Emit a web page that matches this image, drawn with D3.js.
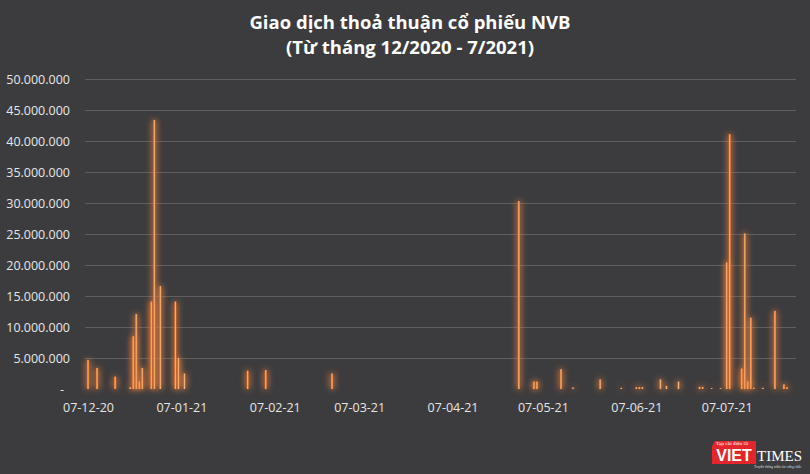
<!DOCTYPE html>
<html>
<head>
<meta charset="utf-8">
<script src="https://cdn.jsdelivr.net/npm/d3@7/dist/d3.min.js"></script>
<style>
  html, body { margin: 0; padding: 0; background: #3c3c3e; }
  svg { display: block; }
  .tick text { fill: #e6e6e6; font-family: "Open Sans", sans-serif; font-size: 12.5px; }
</style>
</head>
<body>
<svg id="chart" width="810" height="474"></svg>
<script>
'use strict';

// trade dates and matched volume
const tradeDates = [
   "2020-12-07", "2020-12-10", "2020-12-16", "2020-12-21", "2020-12-22", "2020-12-23",
   "2020-12-24", "2020-12-25", "2020-12-28", "2020-12-29", "2020-12-31", "2021-01-05",
   "2021-01-06", "2021-01-08", "2021-01-29", "2021-02-04", "2021-02-26", "2021-04-29",
   "2021-05-04", "2021-05-05", "2021-05-13", "2021-05-17", "2021-05-26", "2021-06-02",
   "2021-06-07", "2021-06-08", "2021-06-09", "2021-06-15", "2021-06-17", "2021-06-21",
   "2021-06-28", "2021-06-29", "2021-07-02", "2021-07-05", "2021-07-07", "2021-07-08",
   "2021-07-12", "2021-07-13", "2021-07-14", "2021-07-15", "2021-07-16", "2021-07-19",
   "2021-07-23", "2021-07-26", "2021-07-27"
];
const volumes = [
   4700000, 3400000, 2000000, 300000, 8500000, 12100000,
   1200000, 3400000, 14100000, 43400000, 16600000, 14100000,
   5000000, 2500000, 2950000, 3050000, 2500000, 30300000,
   1200000, 1200000, 3200000, 250000, 1550000, 200000,
   300000, 300000, 300000, 1550000, 500000, 1200000,
   350000, 350000, 150000, 150000, 20400000, 41100000,
   3300000, 25100000, 1200000, 11500000, 200000, 200000,
   12600000, 750000, 300000
];
const monthTicks = [
   "2020-12-07", "2021-01-07", "2021-02-07", "2021-03-07",
   "2021-04-07", "2021-05-07", "2021-06-07", "2021-07-07"
];
const yTicks = [0, 5000000, 10000000, 15000000, 20000000, 25000000,
   30000000, 35000000, 40000000, 45000000, 50000000];
const axisStart = "2020-12-06";
const axisEnd = "2021-07-30";
const titleLines = ["Giao dịch thoả thuận cổ phiếu NVB", "(Từ tháng 12/2020 - 7/2021)"];

const svg = d3.select("#chart"),
   width = +svg.attr("width"),
   height = +svg.attr("height");

const parse = d3.utcParse("%Y-%m-%d");
const plot = { left: 85, right: 796, top: 79, bottom: 389 };

const x = d3.scaleUtc()
   .domain([parse(axisStart), parse(axisEnd)])
   .range([plot.left, plot.right]);

const y = d3.scaleLinear()
   .domain([0, 50000000])
   .range([plot.bottom, plot.top]);

const vn = d3.formatLocale({ decimal: ",", thousands: ".", grouping: [3], currency: ["", ""] });
const fmt = vn.format(",");

svg.append("rect").attr("width", width).attr("height", height).attr("fill", "#3c3c3e");

// glow + gradient for the bars
const defs = svg.append("defs");
const grad = defs.append("linearGradient").attr("id", "barFill")
   .attr("x1", "0").attr("x2", "1").attr("y1", "0").attr("y2", "0");
grad.append("stop").attr("offset", "0%").attr("stop-color", "#d8641c");
grad.append("stop").attr("offset", "50%").attr("stop-color", "#f8b47a");
grad.append("stop").attr("offset", "100%").attr("stop-color", "#d8641c");

const glow = defs.append("filter").attr("id", "glow")
   .attr("x", "-400%").attr("y", "-10%").attr("width", "900%").attr("height", "120%");
glow.append("feGaussianBlur").attr("in", "SourceGraphic").attr("stdDeviation", 3).attr("result", "blur");
glow.append("feColorMatrix").attr("in", "blur").attr("type", "matrix")
   .attr("values", "1 0 0 0 0  0 0.8 0 0 0  0 0 0.6 0 0  0 0 0 0.9 0")
   .attr("result", "halo");
const merge = glow.append("feMerge");
merge.append("feMergeNode").attr("in", "halo");
merge.append("feMergeNode").attr("in", "halo");
merge.append("feMergeNode").attr("in", "SourceGraphic");

// title
svg.append("g").selectAll("text").data(titleLines).join("text")
   .attr("x", 410)
   .attr("y", (d, i) => 29 + i * 25)
   .attr("text-anchor", "middle")
   .attr("fill", "#ffffff")
   .attr("font-family", "'Open Sans', sans-serif")
   .attr("font-weight", "bold")
   .attr("font-size", 18.5)
   .text(d => d);

// y axis with gridlines
const yAxis = svg.append("g")
   .attr("transform", `translate(${plot.left},0)`)
   .call(d3.axisLeft(y)
      .tickValues(yTicks)
      .tickSize(-(plot.right - plot.left))
      .tickPadding(15)
      .tickFormat(d => d === 0 ? "-" : fmt(d)));
yAxis.select(".domain").remove();
yAxis.selectAll(".tick line")
   .attr("stroke", "#5e5e60")
   .attr("stroke-width", 1.2)
   .attr("opacity", d => d === 0 ? 0 : 1);
yAxis.selectAll(".tick text")
   .attr("dx", d => d === 0 ? -6 : 0);

// x axis
const xAxis = svg.append("g")
   .attr("transform", `translate(0,${plot.bottom})`)
   .call(d3.axisBottom(x)
      .tickValues(monthTicks.map(parse))
      .tickSize(0)
      .tickPadding(14)
      .tickFormat(d3.utcFormat("%d-%m-%y")));
xAxis.select(".domain").remove();

// bars
const barW = 2.2;
svg.append("g").attr("filter", "url(#glow)")
   .selectAll("rect")
   .data(tradeDates.map((d, i) => ({ date: parse(d), value: volumes[i] })))
   .join("rect")
   .attr("x", d => x(d.date) - barW / 2)
   .attr("y", d => y(d.value))
   .attr("width", barW)
   .attr("height", d => y(0) - y(d.value))
   .attr("fill", "url(#barFill)");

// VietTimes logo
const logo = svg.append("g").attr("transform", "translate(712,438)");
logo.append("path")
   .attr("d", "M3,3 H44 V26 H0 V8 Z")
   .attr("fill", "#e3262b");
logo.append("text")
   .attr("x", 4).attr("y", 6.5)
   .attr("font-family", "'DejaVu Serif', serif")
   .attr("font-size", 4.2)
   .attr("fill", "#ffffff")
   .text("Tạp chí điện tử");
logo.append("text")
   .attr("x", 22).attr("y", 23)
   .attr("text-anchor", "middle")
   .attr("font-family", "'Liberation Sans', Arial, sans-serif")
   .attr("font-weight", "bold")
   .attr("font-size", 16)
   .attr("fill", "#ffffff")
   .text("VIET");
logo.append("text")
   .attr("x", 45).attr("y", 23)
   .attr("font-family", "'Liberation Serif', serif")
   .attr("font-size", 15)
   .attr("fill", "#ffffff")
   .text("TIMES");
logo.append("text")
   .attr("x", 42).attr("y", 29.5)
   .attr("font-family", "'Liberation Serif', serif")
   .attr("font-style", "italic")
   .attr("font-size", 3.6)
   .attr("fill", "#dddddd")
   .text("Truyền thông niềm tin vững chắc");
</script>
</body>
</html>
